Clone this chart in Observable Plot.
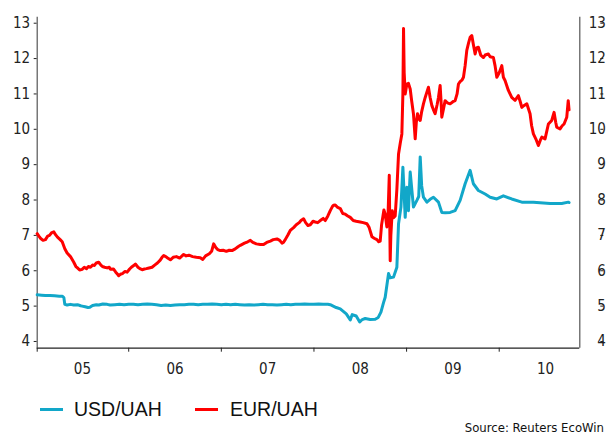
<!DOCTYPE html>
<html><head><meta charset="utf-8">
<script src="https://cdn.jsdelivr.net/npm/d3@7"></script>
<script src="https://cdn.jsdelivr.net/npm/@observablehq/plot@0.6"></script>
<style>
body{margin:0;background:#fff;}
#wrap{position:relative;width:606px;height:436px;overflow:hidden;background:#fff;}
#chart{position:absolute;left:0;top:0;}
.leg{position:absolute;font-family:"Liberation Sans",Arial,sans-serif;font-size:19.5px;line-height:20px;color:#111;white-space:nowrap;}
.sw{position:absolute;height:3px;width:23px;}
#src{position:absolute;right:2px;top:421px;font-family:"DejaVu Sans Condensed","DejaVu Sans",sans-serif;font-size:13px;line-height:13px;color:#111;white-space:nowrap;}
</style>
</head><body>
<div id="wrap">
  <div id="chart"></div>
  <div class="sw" style="left:40px;top:407.5px;background:#12A7C9"></div>
  <div class="leg" id="l1" style="left:74px;top:399px"></div>
  <div class="sw" style="left:195px;top:407.5px;background:#FF0000"></div>
  <div class="leg" id="l2" style="left:230px;top:399px"></div>
  <div id="src"></div>
</div>
<script>
// ---- data (decimal years) ----
const seriesNames = ["USD/UAH", "EUR/UAH"];
const sourceText = "Source:  Reuters EcoWin";
const yearTicks = [2006, 2007, 2008, 2009, 2010];
const yearLabelPos = [2005.5, 2006.5, 2007.5, 2008.5, 2009.5, 2010.5];
const yearLabels = ["05", "06", "07", "08", "09", "10"];
const yTicks = [4, 5, 6, 7, 8, 9, 10, 11, 12, 13];

const usdT = [2005.012,2005.060,2005.100,2005.150,2005.200,2005.250,2005.282,2005.300,2005.310,2005.335,2005.371,2005.407,2005.447,2005.480,2005.497,2005.530,2005.560,2005.580,2005.610,2005.650,2005.676,2005.720,2005.767,2005.800,2005.850,2005.900,2005.950,2006.000,2006.050,2006.100,2006.150,2006.200,2006.250,2006.300,2006.350,2006.400,2006.450,2006.500,2006.550,2006.600,2006.650,2006.700,2006.750,2006.800,2006.850,2006.900,2006.950,2007.000,2007.050,2007.100,2007.150,2007.200,2007.250,2007.300,2007.350,2007.400,2007.450,2007.500,2007.550,2007.600,2007.650,2007.700,2007.750,2007.800,2007.850,2007.900,2007.950,2008.000,2008.050,2008.100,2008.150,2008.176,2008.240,2008.284,2008.349,2008.392,2008.413,2008.456,2008.494,2008.521,2008.553,2008.607,2008.661,2008.694,2008.723,2008.751,2008.769,2008.805,2008.823,2008.859,2008.895,2008.913,2008.939,2008.960,2008.985,2009.003,2009.020,2009.039,2009.074,2009.111,2009.131,2009.147,2009.163,2009.182,2009.219,2009.254,2009.290,2009.344,2009.380,2009.416,2009.470,2009.524,2009.578,2009.632,2009.686,2009.721,2009.775,2009.848,2009.902,2009.974,2010.045,2010.135,2010.244,2010.369,2010.549,2010.675,2010.746,2010.754];
const usdV = [5.32,5.31,5.30,5.30,5.29,5.28,5.28,5.24,5.05,5.03,5.05,5.03,5.04,5.01,5.00,4.98,4.96,4.97,5.02,5.04,5.03,5.06,5.05,5.03,5.04,5.05,5.04,5.05,5.05,5.04,5.05,5.06,5.05,5.04,5.02,5.03,5.02,5.03,5.04,5.04,5.05,5.05,5.04,5.05,5.05,5.06,5.05,5.04,5.05,5.04,5.05,5.04,5.03,5.04,5.03,5.04,5.05,5.04,5.04,5.03,5.04,5.05,5.04,5.05,5.05,5.06,5.05,5.05,5.06,5.05,5.05,5.04,4.96,4.92,4.78,4.61,4.76,4.72,4.55,4.62,4.65,4.62,4.63,4.68,4.83,5.10,5.25,5.92,5.80,5.82,6.10,7.33,7.80,8.93,7.51,8.36,7.70,8.79,7.80,7.99,8.10,9.22,8.40,8.08,7.94,8.02,8.08,7.94,7.65,7.64,7.65,7.70,7.99,8.46,8.84,8.46,8.27,8.17,8.08,8.03,8.12,8.03,7.94,7.94,7.90,7.90,7.94,7.93];

const eurT = [2005.012,2005.030,2005.047,2005.075,2005.101,2005.125,2005.145,2005.170,2005.191,2005.210,2005.231,2005.260,2005.282,2005.310,2005.335,2005.371,2005.407,2005.430,2005.447,2005.470,2005.497,2005.520,2005.544,2005.565,2005.587,2005.610,2005.630,2005.650,2005.676,2005.700,2005.716,2005.740,2005.767,2005.790,2005.803,2005.835,2005.860,2005.880,2005.892,2005.910,2005.932,2005.960,2005.983,2006.010,2006.029,2006.050,2006.072,2006.100,2006.120,2006.145,2006.170,2006.191,2006.220,2006.252,2006.280,2006.310,2006.340,2006.360,2006.378,2006.400,2006.420,2006.450,2006.480,2006.515,2006.550,2006.593,2006.620,2006.650,2006.690,2006.730,2006.773,2006.800,2006.830,2006.870,2006.895,2006.917,2006.940,2006.960,2006.989,2007.020,2007.054,2007.085,2007.115,2007.150,2007.180,2007.205,2007.250,2007.285,2007.313,2007.340,2007.378,2007.420,2007.456,2007.490,2007.529,2007.560,2007.601,2007.630,2007.655,2007.670,2007.690,2007.720,2007.744,2007.780,2007.809,2007.840,2007.860,2007.888,2007.910,2007.935,2007.960,2007.990,2008.014,2008.040,2008.068,2008.100,2008.122,2008.150,2008.176,2008.200,2008.211,2008.230,2008.251,2008.284,2008.310,2008.338,2008.365,2008.392,2008.424,2008.456,2008.499,2008.532,2008.572,2008.596,2008.626,2008.650,2008.680,2008.699,2008.715,2008.730,2008.745,2008.755,2008.769,2008.787,2008.800,2008.813,2008.818,2008.823,2008.830,2008.845,2008.859,2008.877,2008.895,2008.913,2008.931,2008.949,2008.960,2008.967,2008.974,2008.985,2009.003,2009.020,2009.039,2009.055,2009.074,2009.093,2009.105,2009.118,2009.131,2009.147,2009.163,2009.182,2009.201,2009.219,2009.236,2009.254,2009.273,2009.290,2009.308,2009.330,2009.344,2009.362,2009.372,2009.380,2009.400,2009.416,2009.440,2009.470,2009.500,2009.524,2009.545,2009.560,2009.578,2009.600,2009.614,2009.632,2009.650,2009.670,2009.686,2009.704,2009.721,2009.740,2009.755,2009.775,2009.800,2009.830,2009.848,2009.883,2009.902,2009.937,2009.955,2009.974,2010.000,2010.028,2010.045,2010.063,2010.099,2010.135,2010.153,2010.171,2010.207,2010.225,2010.244,2010.261,2010.298,2010.333,2010.350,2010.369,2010.400,2010.423,2010.445,2010.460,2010.495,2010.531,2010.549,2010.567,2010.592,2010.610,2010.621,2010.657,2010.680,2010.700,2010.729,2010.745,2010.754];
const eurV = [7.05,6.98,6.92,6.86,6.88,6.98,7.00,7.08,7.10,7.02,6.95,6.88,6.82,6.62,6.50,6.40,6.24,6.12,6.08,6.02,6.04,6.10,6.06,6.12,6.10,6.16,6.15,6.22,6.24,6.16,6.12,6.10,6.08,6.10,6.04,6.05,5.96,5.90,5.86,5.90,5.92,5.98,5.96,6.05,6.10,6.14,6.19,6.10,6.06,6.03,6.05,6.06,6.08,6.10,6.16,6.22,6.30,6.38,6.43,6.40,6.36,6.31,6.38,6.40,6.36,6.46,6.42,6.44,6.40,6.38,6.37,6.32,6.42,6.48,6.55,6.76,6.66,6.60,6.57,6.58,6.55,6.58,6.57,6.62,6.68,6.72,6.78,6.82,6.86,6.80,6.76,6.74,6.74,6.80,6.84,6.88,6.90,6.86,6.78,6.80,6.88,7.02,7.14,7.22,7.30,7.36,7.42,7.47,7.36,7.28,7.30,7.40,7.38,7.36,7.42,7.48,7.42,7.55,7.70,7.82,7.85,7.86,7.80,7.76,7.62,7.60,7.55,7.51,7.42,7.40,7.38,7.36,7.33,7.22,6.96,6.92,6.88,6.82,6.84,7.30,7.55,7.72,7.60,7.24,7.60,8.70,7.40,6.28,7.00,7.70,7.50,7.55,8.30,9.30,9.60,9.87,11.00,12.85,11.60,11.00,11.28,11.30,11.14,10.80,10.44,9.73,10.20,10.44,10.30,10.25,10.50,10.72,10.90,11.05,11.19,10.90,10.67,10.55,10.44,10.70,10.90,11.24,10.80,10.34,10.60,10.81,10.75,10.72,10.78,10.81,11.00,11.28,11.35,11.40,11.47,11.80,12.23,12.45,12.60,12.65,12.40,12.13,12.30,12.32,12.10,12.03,12.10,12.13,12.05,12.03,11.80,11.47,11.60,11.80,11.47,11.38,11.10,10.90,10.86,10.82,10.95,10.80,10.62,10.66,10.72,10.44,10.10,9.87,9.70,9.54,9.70,9.78,9.73,10.15,10.20,10.25,10.48,10.20,10.06,10.01,10.10,10.15,10.34,10.81,10.55];

const colors = ["#12A7C9", "#FF0000"];
const xDomain = [2005.012, 2010.87];
const yDomain = [3.81, 13.17];

const usd = usdT.map((t, i) => ({t, v: usdV[i]}));
const eur = eurT.map((t, i) => ({t, v: eurV[i]}));

const chart = Plot.plot({
  width: 606,
  height: 388,
  marginTop: 16.7,
  marginBottom: 40.3,
  marginLeft: 36.7,
  marginRight: 26.7,
  style: {fontFamily: "'DejaVu Sans Condensed', 'DejaVu Sans', sans-serif", fontSize: "15px", color: "#222", background: "white", overflow: "visible"},
  x: {type: "linear", domain: xDomain, label: null},
  y: {domain: yDomain, label: null},
  marks: [
    Plot.axisX({ticks: [xDomain[0], ...yearTicks], tickSize: 4, tickFormat: () => "", stroke: "#222", label: null}),
    Plot.axisX({ticks: yearLabelPos, tickSize: 0, tickPadding: 15, tickFormat: (d, i) => yearLabels[i], fontSize: 15, label: null}),
    Plot.axisY({anchor: "left", ticks: yTicks, tickSize: 3, tickPadding: 4, tickFormat: d => String(d), fontSize: 15, label: null}),
    Plot.axisY({anchor: "right", ticks: yTicks, tickSize: 3, tickPadding: 3, textAnchor: "end", dx: 20, tickFormat: d => String(d), fontSize: 15, label: null}),
    Plot.ruleX([xDomain[0], xDomain[1]], {stroke: "#555", strokeWidth: 1.2}),
    Plot.ruleY([yDomain[0]], {stroke: "#222", strokeWidth: 1.2}),
    Plot.line(usd, {x: "t", y: "v", stroke: colors[0], strokeWidth: 3, strokeLinejoin: "round"}),
    Plot.line(eur, {x: "t", y: "v", stroke: colors[1], strokeWidth: 3, strokeLinejoin: "round"})
  ]
});
document.getElementById("chart").appendChild(chart);
document.getElementById("l1").textContent = seriesNames[0];
document.getElementById("l2").textContent = seriesNames[1];
document.getElementById("src").textContent = sourceText;
</script>
</body></html>
